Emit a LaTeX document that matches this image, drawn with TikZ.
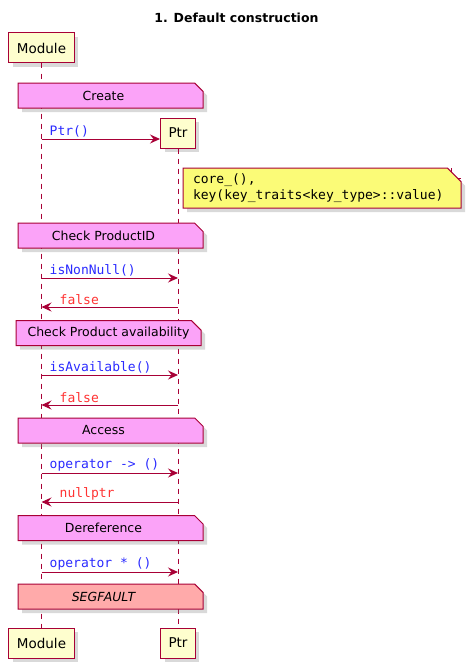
\documentclass[tikz,border=0pt]{standalone}
\usepackage{fontspec}
\setmainfont{DejaVu Sans}
\setmonofont{DejaVu Sans Mono}
\usetikzlibrary{arrows.meta,shapes.misc,shadows,positioning,calc}

\definecolor{umlred}{HTML}{A80036}
\definecolor{umlbox}{HTML}{FEFECE}
\definecolor{notepink}{HTML}{FBA3F8}
\definecolor{notesalmon}{HTML}{FFAAAA}
\definecolor{noteyellow}{HTML}{FBFB77}
\definecolor{callblue}{HTML}{2A2AFF}
\definecolor{retred}{HTML}{FF3333}

\tikzset{
  dropshade/.style={drop shadow={shadow xshift=4pt, shadow yshift=-4pt, opacity=0.3}},
  title/.style={font=\fontsize{12.5}{15}\selectfont\bfseries},
  actor/.style={draw=umlred, fill=umlbox, line width=1pt, minimum height=30pt,
    inner xsep=8pt, font=\fontsize{13.5}{16}\selectfont, dropshade},
  lifeline/.style={draw=umlred, line width=1pt, dash pattern=on 5pt off 5pt},
  note/.style={chamfered rectangle, chamfered rectangle corners=north east,
    chamfered rectangle xsep=10pt, chamfered rectangle angle=45,
    draw=umlred, fill=#1, line width=1pt, minimum width=185pt, minimum height=25pt,
    inner sep=0pt, outer sep=0pt, font=\fontsize{12.5}{15}\selectfont, dropshade,
    append after command={\pgfextra{
      \draw[umlred, line width=1pt]
        ($(\tikzlastnode.east |- \tikzlastnode.north)+(-10pt,0pt)$)
        -- ++(0pt,-10pt) -- ++(10pt,0pt);}}},
  sectionnote/.style={note=#1, execute at begin node={\hspace*{-14pt}}},
  msg/.style={draw=umlred, line width=1pt, -{Stealth[length=10pt, width=9pt, inset=3.5pt]}},
  call/.style={text=callblue, font=\fontsize{13}{15}\ttfamily, inner sep=1pt},
  ret/.style={text=retred, font=\fontsize{13}{15}\ttfamily, inner sep=1pt},
}

\begin{document}
\begin{tikzpicture}[x=1pt, y=-1pt]
  \useasboundingbox (0,0) rectangle (471,669);
  \node[title] (title) at (236.5,18) {1. Default construction};

  % participants
  \node[actor] (modtop) at (41.5,48) {Module};
  \node[actor] (ptrtop) at (178,133) {Ptr};
  \node[actor] (modbot) at (41.5,643) {Module};
  \node[actor] (ptrbot) at (178,643) {Ptr};
  \begin{scope}[lifeline]
    \draw (modtop) -- (modbot);
    \draw (ptrtop) -- (ptrbot);
  \end{scope}

  % points on the lifelines
  \coordinate (m1) at (41.5,139);
  \coordinate (m2) at (41.5,278);
  \coordinate (p2) at (178,278);
  \coordinate (m3) at (41.5,307);
  \coordinate (p3) at (178,307);
  \coordinate (m4) at (41.5,375);
  \coordinate (p4) at (178,375);
  \coordinate (m5) at (41.5,405);
  \coordinate (p5) at (178,405);
  \coordinate (m6) at (41.5,473);
  \coordinate (p6) at (178,473);
  \coordinate (m7) at (41.5,502);
  \coordinate (p7) at (178,502);
  \coordinate (m8) at (41.5,572);
  \coordinate (p8) at (178,572);

  % notes
  \node[sectionnote=notepink] (create) at (110.5,95.5) {Create};
  \node[note=noteyellow, minimum width=278pt, minimum height=40pt, inner xsep=0pt,
    text width=258pt, align=left, font=\fontsize{13}{15.5}\ttfamily]
    (init) at (322,188) {core\_(),\\key(key\_traits<key\_type>::value)};
  \node[sectionnote=notepink] (checkid) at (110.5,235.5) {Check ProductID};
  \node[note=notepink] (checkav) at (108.5,333) {Check Product availability};
  \node[sectionnote=notepink] (access) at (110.5,430.5) {Access};
  \node[sectionnote=notepink] (deref) at (110.5,528) {Dereference};
  \node[sectionnote=notesalmon, font=\fontsize{12.5}{15}\selectfont\itshape] (segv) at (110.5,596.5) {SEGFAULT};

  % messages
  \draw[msg] (m1) -- (ptrtop.west |- m1);
  \draw[msg] (m2) -- (p2);
  \draw[msg] (p3) -- (m3);
  \draw[msg] (m4) -- (p4);
  \draw[msg] (p5) -- (m5);
  \draw[msg] (m6) -- (p6);
  \draw[msg] (p7) -- (m7);
  \draw[msg] (m8) -- (p8);

  \node[call, above right=1pt and 7pt of m1] (l1) {Ptr()};
  \node[call, above right=1pt and 7pt of m2] (l2) {isNonNull()};
  \node[ret, above right=1pt and 17pt of m3] (l3) {false};
  \node[call, above right=1pt and 7pt of m4] (l4) {isAvailable()};
  \node[ret, above right=1pt and 17pt of m5] (l5) {false};
  \node[call, above right=1pt and 7pt of m6] (l6) {operator -> ()};
  \node[ret, above right=1pt and 17pt of m7] (l7) {nullptr};
  \node[call, above right=1pt and 7pt of m8] (l8) {operator * ()};
\end{tikzpicture}
\end{document}
